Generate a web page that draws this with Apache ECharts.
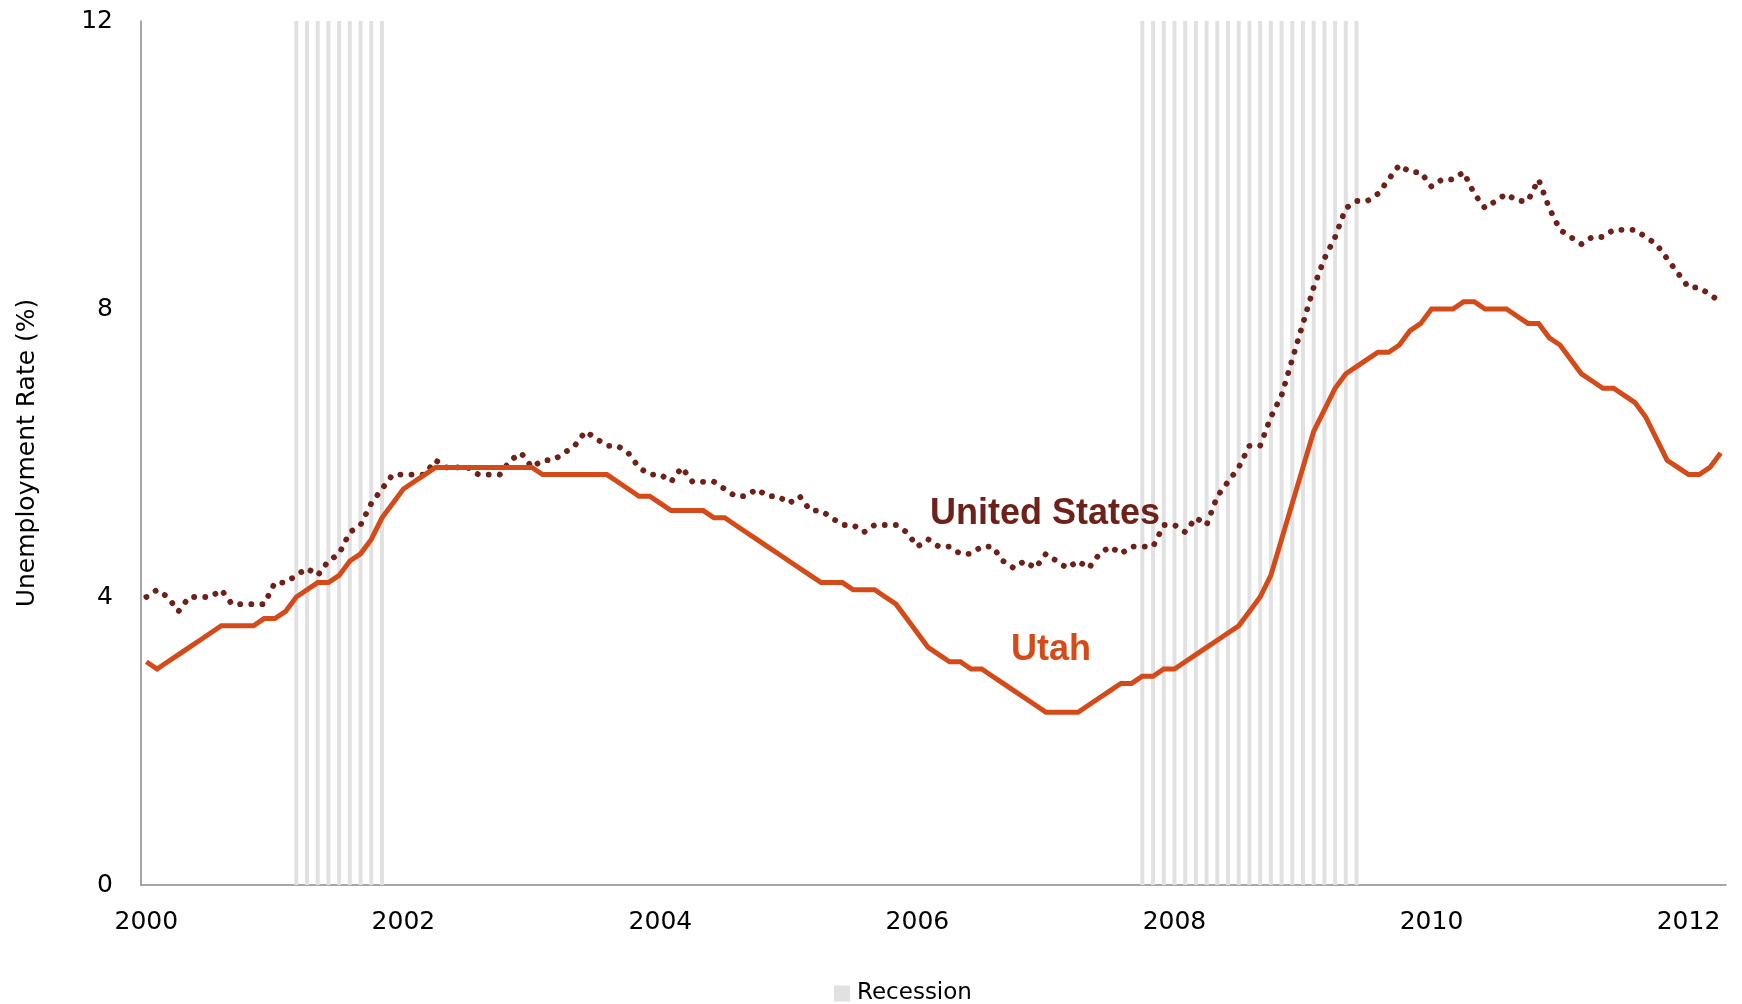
<!DOCTYPE html>
<html>
<head>
<meta charset="utf-8">
<script src="https://cdn.jsdelivr.net/npm/echarts@6/dist/echarts.min.js"></script>
<style>
html,body{margin:0;padding:0;background:#fff;}
#chart{width:1742px;height:1004px;}
</style>
</head>
<body>
<div id="chart"></div>
<script>
// ---- data ----
const startYear = 2000;
const monthCount = 148; // Jan 2000 .. Apr 2012
const yearTickLabels = ['2000','2002','2004','2006','2008','2010','2012'];
const yTicks = [0, 4, 8, 12];

const utah = [
  3.1, 3.0, 3.1, 3.2, 3.3, 3.4, 3.5, 3.6, 3.6, 3.6, 3.6, 3.7,
  3.7, 3.8, 4.0, 4.1, 4.2, 4.2, 4.3, 4.5, 4.6, 4.8, 5.1, 5.3,
  5.5, 5.6, 5.7, 5.8, 5.8, 5.8, 5.8, 5.8, 5.8, 5.8, 5.8, 5.8,
  5.8, 5.7, 5.7, 5.7, 5.7, 5.7, 5.7, 5.7, 5.6, 5.5, 5.4, 5.4,
  5.3, 5.2, 5.2, 5.2, 5.2, 5.1, 5.1, 5.0, 4.9, 4.8, 4.7, 4.6,
  4.5, 4.4, 4.3, 4.2, 4.2, 4.2, 4.1, 4.1, 4.1, 4.0, 3.9, 3.7,
  3.5, 3.3, 3.2, 3.1, 3.1, 3.0, 3.0, 2.9, 2.8, 2.7, 2.6, 2.5,
  2.4, 2.4, 2.4, 2.4, 2.5, 2.6, 2.7, 2.8, 2.8, 2.9, 2.9, 3.0,
  3.0, 3.1, 3.2, 3.3, 3.4, 3.5, 3.6, 3.8, 4.0, 4.3, 4.8, 5.3,
  5.8, 6.3, 6.6, 6.9, 7.1, 7.2, 7.3, 7.4, 7.4, 7.5, 7.7, 7.8,
  8.0, 8.0, 8.0, 8.1, 8.1, 8.0, 8.0, 8.0, 7.9, 7.8, 7.8, 7.6,
  7.5, 7.3, 7.1, 7.0, 6.9, 6.9, 6.8, 6.7, 6.5, 6.2, 5.9, 5.8,
  5.7, 5.7, 5.8, 6.0
];

const unitedStates = [
  4.0, 4.1, 4.0, 3.8, 4.0, 4.0, 4.0, 4.1, 3.9, 3.9, 3.9, 3.9,
  4.2, 4.2, 4.3, 4.4, 4.3, 4.5, 4.6, 4.9, 5.0, 5.3, 5.5, 5.7,
  5.7, 5.7, 5.7, 5.9, 5.8, 5.8, 5.8, 5.7, 5.7, 5.7, 5.9, 6.0,
  5.8, 5.9, 5.9, 6.0, 6.1, 6.3, 6.2, 6.1, 6.1, 6.0, 5.8, 5.7,
  5.7, 5.6, 5.8, 5.6, 5.6, 5.6, 5.5, 5.4, 5.4, 5.5, 5.4, 5.4,
  5.3, 5.4, 5.2, 5.2, 5.1, 5.0, 5.0, 4.9, 5.0, 5.0, 5.0, 4.9,
  4.7, 4.8, 4.7, 4.7, 4.6, 4.6, 4.7, 4.7, 4.5, 4.4, 4.5, 4.4,
  4.6, 4.5, 4.4, 4.5, 4.4, 4.6, 4.7, 4.6, 4.7, 4.7, 4.7, 5.0,
  5.0, 4.9, 5.1, 5.0, 5.4, 5.6, 5.8, 6.1, 6.1, 6.5, 6.8, 7.3,
  7.8, 8.3, 8.7, 9.0, 9.4, 9.5, 9.5, 9.6, 9.8, 10.0, 9.9, 9.9,
  9.7, 9.8, 9.8, 9.9, 9.6, 9.4, 9.5, 9.6, 9.5, 9.5, 9.8, 9.4,
  9.1, 9.0, 8.9, 9.0, 9.0, 9.1, 9.1, 9.1, 9.0, 8.9, 8.7, 8.5,
  8.3, 8.3, 8.2, 8.1
];

const recessionStart = ['2001-03', '2007-10'];
const recessionEnd   = ['2001-11', '2009-06'];
const recessionHeight = 12;

// ---- build ----
const months = [];
for (let k = 0; k < monthCount; k++) {
  const y = startYear + Math.floor(k / 12);
  const m = (k % 12) + 1;
  months.push(y + '-' + (m < 10 ? '0' + m : '' + m));
}
const recession = months.map(mo => {
  for (let r = 0; r < recessionStart.length; r++) {
    if (mo >= recessionStart[r] && mo <= recessionEnd[r]) return recessionHeight;
  }
  return '-';
});

const chart = echarts.init(document.getElementById('chart'), null, {renderer: 'canvas'});
const tickFont = 'DejaVu Sans';
chart.setOption({
  animation: false,
  backgroundColor: '#ffffff',
  grid: {left: 141, right: 16, top: 21, bottom: 119, containLabel: false},
  legend: {
    data: ['Recession'],
    left: 829, top: 977,
    icon: 'rect', itemWidth: 16, itemHeight: 16, itemGap: 10,
    textStyle: {fontFamily: tickFont, fontSize: 23, color: '#000', padding: [0,0,0,2]}
  },
  xAxis: {
    type: 'category',
    data: months,
    boundaryGap: true,
    axisLine: {show: true, lineStyle: {color: '#8a8a8a', width: 1.5}},
    axisTick: {show: false},
    splitLine: {show: false},
    axisLabel: {
      interval: 0,
      margin: 25,
      fontFamily: tickFont, fontSize: 25, color: '#000',
      formatter: function (v) {
        const y = v.slice(0, 4);
        return (v.slice(5) === '01' && yearTickLabels.indexOf(y) >= 0) ? y : '';
      }
    }
  },
  yAxis: {
    type: 'value',
    min: yTicks[0], max: yTicks[yTicks.length - 1], interval: yTicks[1] - yTicks[0],
    name: 'Unemployment Rate (%)',
    nameLocation: 'middle',
    nameGap: 101,
    nameTextStyle: {fontFamily: tickFont, fontSize: 25, color: '#000'},
    axisLine: {show: true, lineStyle: {color: '#8a8a8a', width: 1.5}},
    axisTick: {show: false},
    splitLine: {show: false},
    axisLabel: {margin: 28, fontFamily: tickFont, fontSize: 25, color: '#000'}
  },
  series: [
    {
      name: 'Recession', type: 'bar', data: recession,
      barWidth: 4, itemStyle: {color: '#e1e1e1'}, z: 1,
      silent: true
    },
    {
      name: 'United States', type: 'line', data: unitedStates,
      symbol: 'none', z: 3,
      lineStyle: {color: '#6e2119', width: 5.8, type: [0.1, 11], cap: 'round', join: 'round'}
    },
    {
      name: 'Utah', type: 'line', data: utah,
      symbol: 'none', z: 4,
      lineStyle: {color: '#d44b19', width: 5, type: 'solid', join: 'miter'}
    }
  ],
  graphic: [
    {type: 'text', x: 1045, y: 514, z: 10,
     style: {text: 'United States', align: 'center', verticalAlign: 'middle',
             font: 'bold 36px "Liberation Sans"', fill: '#6e2119'}},
    {type: 'text', x: 1051, y: 650, z: 10,
     style: {text: 'Utah', align: 'center', verticalAlign: 'middle',
             font: 'bold 36px "Liberation Sans"', fill: '#d44b19'}}
  ]
});
</script>
</body>
</html>
